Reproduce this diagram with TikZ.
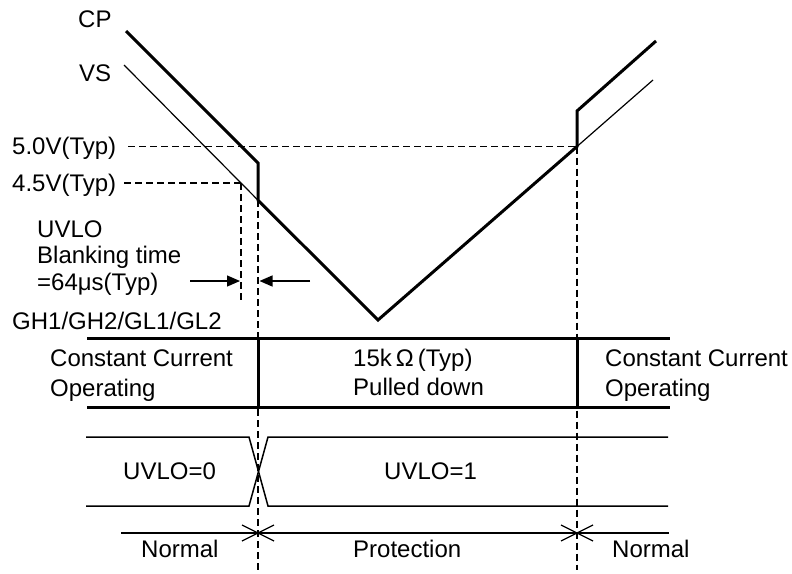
\documentclass[tikz,border=0pt]{standalone}
\usepackage{fontspec}
\setmainfont{Liberation Sans}
\usetikzlibrary{arrows.meta}
\begin{document}
\begin{tikzpicture}[x=1pt,y=-1pt,
  lbl/.style={inner sep=0pt, anchor=base west, font=\fontsize{24}{28}\selectfont},
  thickw/.style={line width=3pt, line join=miter},
  thinw/.style={line width=1.2pt},
  sig/.style={line width=1.5pt},
  dsh/.style={line width=1.3pt, dash pattern=on 7pt off 4pt},
  dimarrow/.style={line width=1.3pt, -{Triangle[length=13pt,width=11pt]}}]
\useasboundingbox (0,0) rectangle (792,573);

% labels
\node[lbl] (cp) at (78,27) {CP};
\node[lbl] (vs) at (79,81) {VS};
\node[lbl] (v50) at (12,154.5) {5.0V(Typ)};
\node[lbl] (v45) at (12,191.5) {4.5V(Typ)};
\node[lbl] (uv) at (37,237.5) {UVLO};
\node[lbl] (bt) at (37,263.5) {Blanking time};
\node[lbl] (bt2) at (37,290) {=64μs(Typ)};
\node[lbl] (gh) at (12,329) {GH1/GH2/GL1/GL2};
\node[lbl] (cc1) at (50,366) {Constant Current};
\node[lbl] (op1) at (50,396.5) {Operating};
\node[lbl] (res) at (353,366) {15k\,Ω\,(Typ)};
\node[lbl] (pd) at (353,395.5) {Pulled down};
\node[lbl] (cc2) at (605,366) {Constant Current};
\node[lbl] (op2) at (605,396.5) {Operating};
\node[lbl] (u0) at (123,479) {UVLO=0};
\node[lbl] (u1) at (384,479) {UVLO=1};
\node[lbl] (n1) at (141,557) {Normal};
\node[lbl] (pr) at (353,557) {Protection};
\node[lbl] (n2) at (612,557) {Normal};

% waveform coordinates
\coordinate (cpS) at (126,31);
\coordinate (cpA) at (258,163);
\coordinate (j1) at (258,200.2);
\coordinate (bot) at (378,320);
\coordinate (j2) at (577,146.5);
\coordinate (cpB) at (577,111);
\coordinate (cpE) at (656,41);
\coordinate (vsS) at (124,65);
\coordinate (vsE) at (653,80);
\coordinate (x45) at (241,183);
\coordinate (d50s) at (128,146.5);
\coordinate (d45s) at (124,183);
\coordinate (x45b) at (241,300);
\coordinate (j1b) at (258,570);
\coordinate (j2b) at (577,570);

% dashed guides
\draw[dsh] (d50s) -- (j2);
\draw[dsh] (d45s) -- (x45);
\draw[dsh] (x45) -- (x45b);
\draw[dsh] (j1) -- (j1b);
\draw[dsh] (j2) -- (j2b);

% VS and CP
\draw[thinw] (vsS) -- (x45) -- (j1) -- (bot) -- (j2) -- (vsE);
\draw[thickw] (cpS) -- (cpA) -- (j1) -- (bot) -- (j2) -- (cpB) -- (cpE);

% blanking time arrows
\coordinate (al) at (190,281);
\coordinate (alE) at (240,281);
\coordinate (ar) at (310,281);
\coordinate (arE) at (259.5,281);
\draw[dimarrow] (al) -- (alE);
\draw[dimarrow] (ar) -- (arE);

% GH bus
\coordinate (bTL) at (87,338);
\coordinate (bTR) at (670,338);
\coordinate (bBL) at (87,407);
\coordinate (bBR) at (670,407);
\coordinate (b1t) at (258,338);
\coordinate (b1b) at (258,407);
\coordinate (b2t) at (577,338);
\coordinate (b2b) at (577,407);
\draw[thickw] (bTL) -- (bTR);
\draw[thickw] (bBL) -- (bBR);
\draw[thickw] (b1t) -- (b1b);
\draw[thickw] (b2t) -- (b2b);

% UVLO signal
\coordinate (sTL) at (86,437);
\coordinate (sBL) at (86,506);
\coordinate (s1t) at (249,437);
\coordinate (s1b) at (249,506);
\coordinate (s2t) at (268,437);
\coordinate (s2b) at (268,506);
\coordinate (sTR) at (668,437);
\coordinate (sBR) at (668,506);
\draw[sig] (sTL) -- (s1t) -- (s2b) -- (sBR);
\draw[sig] (sBL) -- (s1b) -- (s2t) -- (sTR);

% timeline
\coordinate (tL) at (121,533);
\coordinate (tR) at (669,533);
\draw[thinw] (tL) -- (tR);
\foreach \xx [count=\i] in {258,577}{
  \coordinate (xa\i) at (\xx-16,525);
  \coordinate (xb\i) at (\xx+16,541);
  \coordinate (xc\i) at (\xx-16,541);
  \coordinate (xd\i) at (\xx+16,525);
  \draw[thinw] (xa\i) -- (xb\i);
  \draw[thinw] (xc\i) -- (xd\i);
}
\end{tikzpicture}
\end{document}
